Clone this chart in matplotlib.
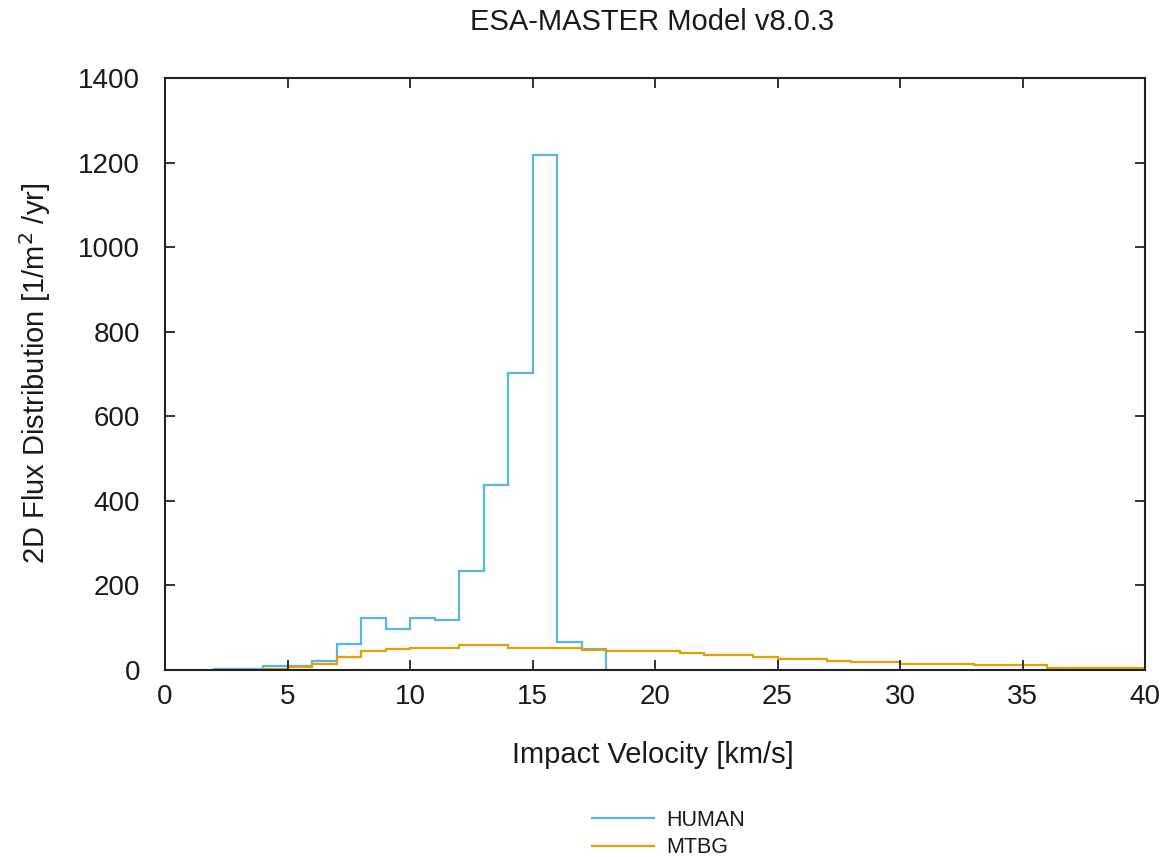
import matplotlib
matplotlib.use("Agg")
import matplotlib.pyplot as plt
from matplotlib.lines import Line2D

# Impact velocity bins [km/s] and 2D flux per source [1/m^2/yr]
human_edges = list(range(2, 19))
human_flux = [3, 3, 9, 9, 21, 62, 122, 96, 122, 118, 234, 437, 702, 1218, 66, 49]

mtbg_edges = list(range(4, 41))
mtbg_flux = [3, 8, 14, 30, 44, 49, 53, 53, 58, 58, 52, 52, 52, 48, 44, 44, 44,
             40, 36, 36, 31, 27, 27, 22, 18, 18, 15, 15, 15, 11, 11, 11,
             5, 5, 5, 5]

x_ticks = [0, 5, 10, 15, 20, 25, 30, 35, 40]
y_ticks = [0, 200, 400, 600, 800, 1000, 1200, 1400]

plt.rcParams['font.family'] = ['Liberation Sans', 'DejaVu Sans']
plt.rcParams['mathtext.fontset'] = 'custom'
text_color = '#1a1a1a'

W, H = 1165, 857
fig = plt.figure(figsize=(W / 100, H / 100), dpi=100)
ax = fig.add_axes([165 / W, 1 - 670 / H, (1145 - 165) / W, (670 - 78) / H])

blue = '#56b4e9'
orange = '#e69f00'

ax.stairs(human_flux, human_edges, color=blue, linewidth=1.6, label='HUMAN')
ax.stairs(mtbg_flux, mtbg_edges, color=orange, linewidth=1.6, label='MTBG')

ax.set_xlim(0, 40)
ax.set_ylim(0, 1400)
ax.set_xticks(x_ticks)
ax.set_yticks(y_ticks)
ax.tick_params(direction='in', length=7, width=1.3, top=True, right=True,
               labelsize=20, color='#222222', labelcolor=text_color)
ax.tick_params(axis='x', pad=10)
ax.tick_params(axis='y', pad=18)
for s in ax.spines.values():
    s.set_linewidth(1.5)
    s.set_color('#222222')

fig.text(0.5 * (467 + 838) / W, 1 - 22 / H, 'ESA-MASTER Model v8.0.3',
         ha='center', va='center', fontsize=21, color=text_color)
fig.text(0.5 * (508 + 797) / W, 1 - 755 / H, 'Impact Velocity [km/s]',
         ha='center', va='center', fontsize=21, color=text_color)
fig.text(35 / W, 1 - 373 / H, '2D Flux Distribution [1/m$^{2}$ /yr]',
         ha='center', va='center', rotation=90, fontsize=21, color=text_color)

handles = [Line2D([], [], color=blue, linewidth=1.6),
           Line2D([], [], color=orange, linewidth=1.6)]
fig.legend(handles, ['HUMAN', 'MTBG'], loc='center left',
           bbox_to_anchor=(573 / W, 1 - 834 / H), frameon=False,
           fontsize=15.5, handlelength=2.85, handletextpad=0.6,
           labelspacing=0.3, labelcolor=text_color)

fig.savefig('out.png', dpi=100)
